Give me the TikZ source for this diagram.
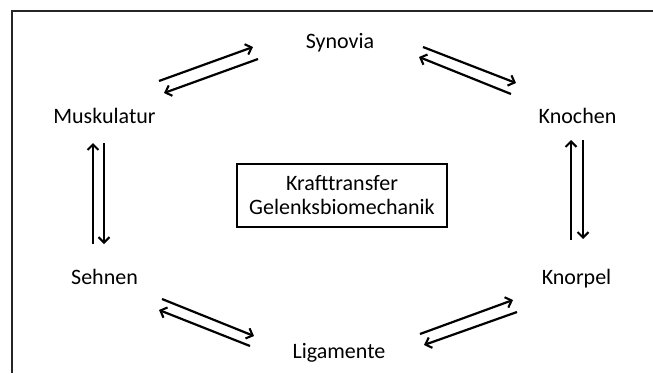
\documentclass[tikz,border=0pt]{standalone}
\usepackage{fontspec}
\setmainfont{Carlito}
\usetikzlibrary{arrows.meta}
\begin{document}
\begin{tikzpicture}[x=1pt,y=-1pt,
  lbl/.style={inner sep=0pt,anchor=base,font=\fontsize{22}{24}\selectfont},
  arr/.style={line width=2.2pt,-{Straight Barb[length=5.5pt,width=11pt,line width=2.1pt]}},
  frame/.style={line width=1.8pt,draw=black!85}]
\useasboundingbox (0,0) rectangle (653,373);
% frame (top and left edges)
\coordinate (fl) at (12,373);
\coordinate (fc) at (12,11);
\coordinate (fr) at (653,11);
\draw[frame] (fl) -- (fc) -- (fr);
% labels
\node[lbl] (syn) at (340,48) {Synovia};
\node[lbl] (mus) at (104.5,123) {Muskulatur};
\node[lbl] (kno) at (577.5,123) {Knochen};
\node[lbl] (seh) at (104.5,284) {Sehnen};
\node[lbl] (kor) at (576.5,284) {Knorpel};
\node[lbl] (lig) at (339,358) {Ligamente};
\node[draw,line width=1.3pt,minimum width=210pt,minimum height=63pt,inner sep=0pt,align=center,
      font=\fontsize{22}{24}\selectfont] (box) at (342,195.5) {Krafttransfer\\Gelenksbiomechanik};
% arrow end points
\coordinate (ms1) at (159,81);  \coordinate (ms2) at (253,47);
\coordinate (sm1) at (258,59);  \coordinate (sm2) at (164,93);
\coordinate (sk1) at (423,47);  \coordinate (sk2) at (516,83);
\coordinate (ks1) at (511,94);  \coordinate (ks2) at (419,57);
\coordinate (sm3) at (93,244);  \coordinate (sm4) at (93,143);
\coordinate (ms3) at (104,143); \coordinate (ms4) at (104,244);
\coordinate (kk1) at (571,240); \coordinate (kk2) at (571,140);
\coordinate (kk3) at (583,140); \coordinate (kk4) at (583,239);
\coordinate (sl1) at (162,299); \coordinate (sl2) at (254,336);
\coordinate (ls1) at (250,346); \coordinate (ls2) at (159,310);
\coordinate (lk1) at (420,334); \coordinate (lk2) at (513,300);
\coordinate (kl1) at (517,312); \coordinate (kl2) at (424,345);
% arrows
\draw[arr] (ms1) -- (ms2);
\draw[arr] (sm1) -- (sm2);
\draw[arr] (sk1) -- (sk2);
\draw[arr] (ks1) -- (ks2);
\draw[arr] (sm3) -- (sm4);
\draw[arr] (ms3) -- (ms4);
\draw[arr] (kk1) -- (kk2);
\draw[arr] (kk3) -- (kk4);
\draw[arr] (sl1) -- (sl2);
\draw[arr] (ls1) -- (ls2);
\draw[arr] (lk1) -- (lk2);
\draw[arr] (kl1) -- (kl2);
\end{tikzpicture}
\end{document}
